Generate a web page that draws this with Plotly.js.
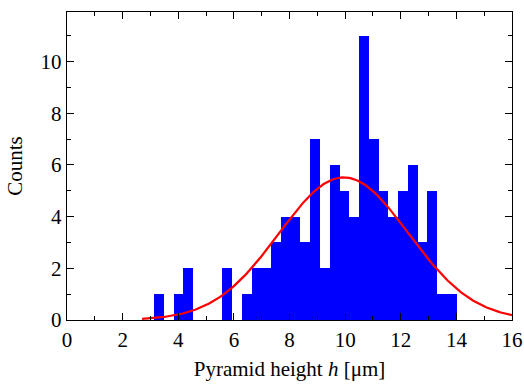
<!DOCTYPE html>
<html>
<head>
<meta charset="utf-8">
<script src="https://cdn.plot.ly/plotly-3.0.1.min.js"></script>
<style>html,body{margin:0;padding:0;background:#fff;}#chart{width:524px;height:385px;}</style>
</head>
<body>
<div id="chart"></div>
<script>
// Histogram bins (left edge of first bin and bin width, in µm)
const binStart = 3.128;
const binWidth = 0.3511;
// Counts per bin
const counts = [1,0,1,2,0,0,0,2,0,1,2,2,3,4,4,3,7,2,6,5,4,11,7,5,4,5,6,3,5,1,1];
// Fitted normal curve parameters
const fitMean = 9.95;
const fitSigma = 2.33;
const fitPeak = 5.52;
const fitFrom = 2.7;
const fitTo = 16;
// Axis ticks
const xTicks = [0,2,4,6,8,10,12,14,16];
const yTicks = [0,2,4,6,8,10];

const binCenters = counts.map((c,i)=> binStart + binWidth*(i+0.5));

const curveX = [], curveY = [];
for (let k=0; k<=300; k++){
  const x = fitFrom + (fitTo-fitFrom)*k/300;
  curveX.push(x);
  curveY.push(fitPeak*Math.exp(-Math.pow(x-fitMean,2)/(2*fitSigma*fitSigma)));
}

function serif(){ return {family:'Times New Roman, Liberation Serif, serif', size:21, color:'#000000'}; }

const data = [
  {type:'bar', x:binCenters, y:counts, width:binWidth,
   marker:{color:'#0000ff', line:{width:0}}, hoverinfo:'x+y'},
  {type:'scatter', mode:'lines', x:curveX, y:curveY,
   line:{color:'#ff0000', width:2.2}, hoverinfo:'skip'}
];

function axisCommon(){
  return {
    showgrid:false, zeroline:false, showline:true, linecolor:'#000', linewidth:1.3,
    mirror:'ticks', ticks:'inside', ticklen:7, tickwidth:1, tickcolor:'#000',
    tickfont:serif()
  };
}

const layout = {
  width:524, height:385,
  margin:{l:67, r:12, t:12, b:65},
  paper_bgcolor:'#fff', plot_bgcolor:'#fff',
  showlegend:false, bargap:0,
  font:serif(),
  xaxis:Object.assign(axisCommon(), {
    range:[0,16], tickvals:xTicks, ticktext:xTicks.map(String),
    minor:{dtick:1, tick0:0, ticks:'inside', ticklen:4, tickwidth:1, tickcolor:'#000', showgrid:false},
    title:{text:'Pyramid height <i>h</i> [μm]', font:serif(), standoff:10}
  }),
  yaxis:Object.assign(axisCommon(), {
    range:[0,11.92], tickvals:yTicks, ticktext:yTicks.map(String),
    minor:{dtick:1, tick0:0, ticks:'inside', ticklen:4, tickwidth:1, tickcolor:'#000', showgrid:false},
    title:{text:'Counts', font:serif(), standoff:12}
  })
};

Plotly.newPlot('chart', data, layout, {displayModeBar:false, staticPlot:true});
</script>
</body>
</html>
